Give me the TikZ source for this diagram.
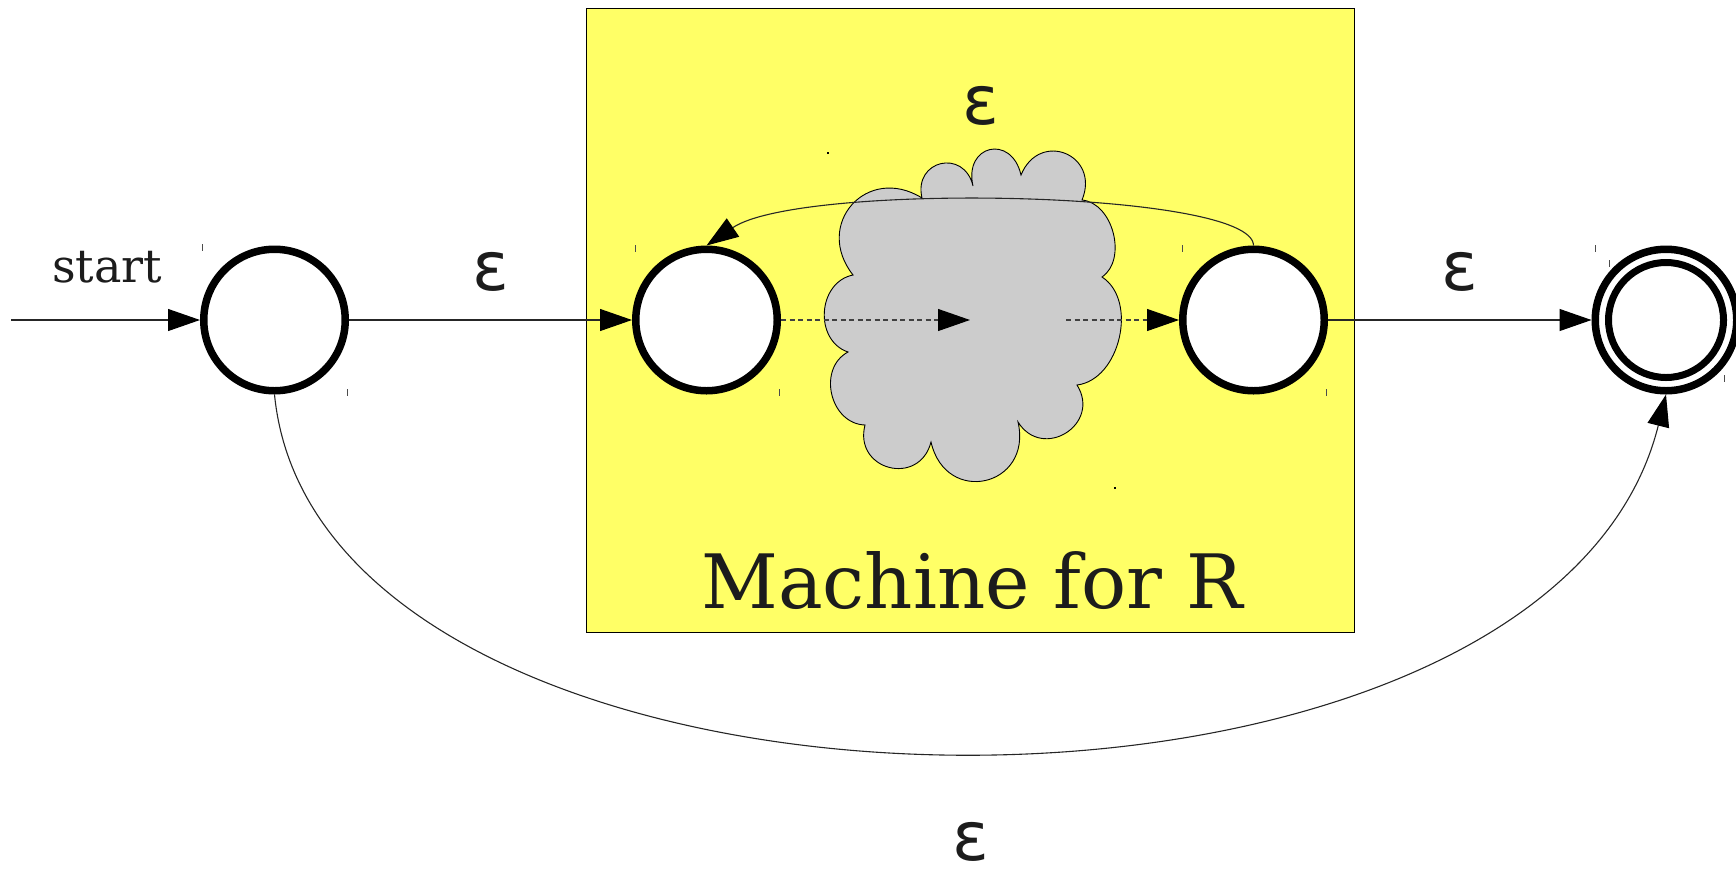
\documentclass[tikz,border=0pt]{standalone}
\usepackage{fontspec}
\setmainfont{DejaVu Serif}
\newfontfamily\epsfont{DejaVu Sans}
\usetikzlibrary{arrows.meta}
\definecolor{boxyellow}{HTML}{FFFF66}
\definecolor{cloudgray}{HTML}{CCCCCC}
\definecolor{txt}{HTML}{1C1C1C}
\begin{document}
\begin{tikzpicture}[x=1pt,y=-1pt,
  state/.style={circle,draw=black,line width=7.5pt,fill=white,minimum size=141.5pt,inner sep=0pt},
  edge/.style={line width=1.1pt,draw=black!85,-{Triangle[length=32pt,width=22pt,color=black]}},
  dashedge/.style={line width=1.1pt,draw=black!75,dash pattern=on 5pt off 3.5pt,-{Triangle[length=32pt,width=22pt,color=black]}},
  eps/.style={font=\epsfont\fontsize{68}{68}\selectfont,text=txt,inner sep=0pt},
  lbl/.style={text=txt,inner sep=0pt,anchor=base},
  tick/.style={line width=0.8pt,draw=black!70},
]
\useasboundingbox (0,0) rectangle (1736,871);

% yellow machine box
\draw[fill=boxyellow,line width=1pt] (586,8) rectangle (1354,632);

% cloud
\draw[fill=cloudgray,line width=0.9pt]
  (853,275) to[bend left=80,looseness=1.6] (922,198)
  to[bend left=90,looseness=1.9] (973,186)
  to[bend left=90,looseness=2.2] (1021,175)
  to[bend left=90,looseness=1.9] (1082,200)
  to[bend left=70,looseness=1.0] (1102,277)
  to[bend left=70,looseness=1.0] (1077,385)
  to[bend left=90,looseness=1.7] (1018,422)
  to[bend left=90,looseness=1.9] (931,442)
  to[bend left=90,looseness=1.75] (865,425)
  to[bend left=75,looseness=1.2] (848,352)
  to[bend left=75,looseness=1.2] (853,275) -- cycle;
\fill (827,152) rectangle +(2,2);
\fill (1114,487) rectangle +(2,2);

% states
\node[state] (s1) at (274.5,320) {};
\node[state] (s2) at (706.5,320) {};
\node[state] (s3) at (1253.5,320) {};
\node[state] (s4) at (1666,320) {};
\draw[line width=7pt] (s4.center) circle[radius=57.5];

% ticks
\draw[tick] (202,244) -- (202,251);
\draw[tick] (347,389) -- (347,396);
\draw[tick] (635,245) -- (635,252);
\draw[tick] (779,389) -- (779,396);
\draw[tick] (1182,245) -- (1182,252);
\draw[tick] (1326,389) -- (1326,396);
\draw[tick] (1595,245) -- (1595,252);
\draw[tick] (1609,260) -- (1609,267);
\draw[tick] (1724,375) -- (1724,382);

% connectors
\coordinate (st) at (11,320);
\coordinate (cc) at (970,320);
\coordinate (cr) at (1066,320);
\draw[edge] (st) -- (s1);
\draw[edge] (s1) -- (s2);
\draw[dashedge] (s2) -- (cc);
\draw[dashedge] (cr) -- (s3);
\draw[edge] (s3) -- (s4);
\draw[edge] (s3.north) .. controls (1253,190) and (800,182) .. (s2.north);
\draw[edge] (s1.south) .. controls (320,860) and (1545,880) .. (s4.south);

% labels
\node[lbl,font=\fontsize{46}{46}\selectfont] (lstart) at (107,282) {start};
\node[lbl,font=\fontsize{75}{75}\selectfont] (lmach) at (972,608) {Machine for R};
\node[eps] (e1) at (490.7,271.5) {ε};
\node[eps] (e2) at (1460,271.5) {ε};
\node[eps] (e3) at (981,106) {ε};
\node[eps] (e4) at (971,842) {ε};
\end{tikzpicture}
\end{document}
